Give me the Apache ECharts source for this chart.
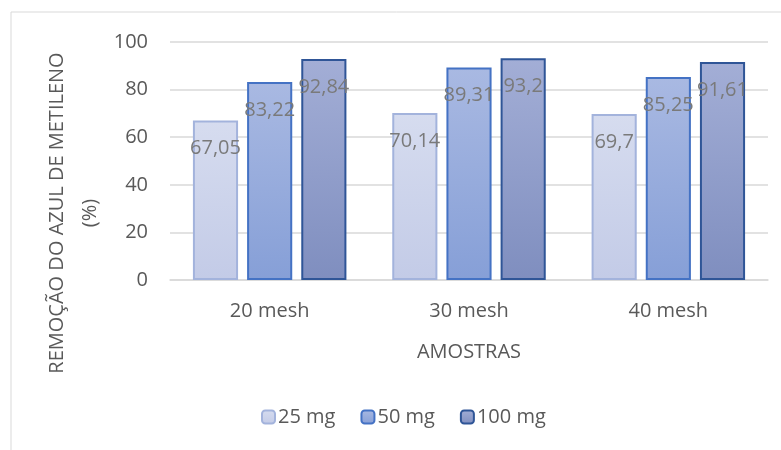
<!DOCTYPE html>
<html><head><meta charset="utf-8">
<script src="https://cdn.jsdelivr.net/npm/echarts@6/dist/echarts.min.js"></script>
<style>html,body{margin:0;padding:0;background:#fff}#c{width:781px;height:450px}</style>
</head><body><div id="c"></div>
<script>
var categories = ['20 mesh', '30 mesh', '40 mesh'];
var seriesNames = ['25 mg', '50 mg', '100 mg'];
var s25 = [67.05, 70.14, 69.7];
var s50 = [83.22, 89.31, 85.25];
var s100 = [92.84, 93.2, 91.61];
var yTicks = [0, 20, 40, 60, 80, 100];
var yTitle = 'REMOÇÃO DO AZUL DE METILENO\n(%)';

var FONT = '"Open Sans", "Noto Sans", sans-serif';
var FS = 20;
function grad(a, b) {
  return new echarts.graphic.LinearGradient(0, 0, 0, 1, [{offset: 0, color: a}, {offset: 1, color: b}]);
}
var styles = [
  {fill: grad('#d6dcef', '#c3cbe7'), border: '#a3b3dc'},
  {fill: grad('#a9b9e2', '#869fd7'), border: '#4472c4'},
  {fill: grad('#a3aed6', '#7f8ebf'), border: '#2f5597'}
];
var data = [s25, s50, s100];
var chart = echarts.init(document.getElementById('c'));
chart.setOption({
  animation: false,
  textStyle: {fontFamily: FONT},
  graphic: [
    {type: 'rect', shape: {x: 11, y: 12, width: 900, height: 600},
      style: {fill: 'none', stroke: '#d9d9d9', lineWidth: 1}, silent: true},
    {type: 'text', x: 74, y: 213, rotation: Math.PI / 2, silent: true,
      style: {text: yTitle, font: FS + 'px ' + FONT, fill: '#595959', align: 'center',
        verticalAlign: 'middle', lineHeight: 33}}
  ],
  grid: {left: 170, right: 13, top: 42, bottom: 170},
  legend: {
    data: seriesNames, bottom: 18, left: 256, itemWidth: 13, itemHeight: 13, itemGap: 25,
    textStyle: {fontSize: FS, color: '#595959', fontFamily: FONT, padding: [0, 0, 0, -2]}
  },
  xAxis: {
    type: 'category', data: categories,
    name: 'AMOSTRAS', nameLocation: 'middle', nameGap: 62,
    nameTextStyle: {fontSize: FS, color: '#595959', fontFamily: FONT},
    axisLine: {lineStyle: {color: '#d9d9d9', width: 1.5}},
    axisTick: {show: false},
    axisLabel: {fontSize: FS, color: '#595959', margin: 21, fontFamily: FONT}
  },
  yAxis: {
    type: 'value', min: 0, max: 100, interval: 20,
    axisLine: {show: false}, axisTick: {show: false},
    axisLabel: {fontSize: FS, color: '#595959', margin: 22, fontFamily: FONT,
      formatter: function (v) { return yTicks.indexOf(v) >= 0 ? String(v) : ''; }},
    splitLine: {lineStyle: {color: '#d9d9d9', width: 1.5}}
  },
  series: seriesNames.map(function (n, i) {
    return {
      name: n, type: 'bar', data: data[i], barGap: '20%', barCategoryGap: '23%',
      itemStyle: {color: styles[i].fill, borderColor: styles[i].border, borderWidth: 2},
      label: {show: true, position: 'insideTop', distance: 18, fontSize: FS, color: '#7a7a7a',
        fontFamily: FONT,
        formatter: function (p) { return String(p.value).replace('.', ','); }}
    };
  })
});
</script></body></html>
